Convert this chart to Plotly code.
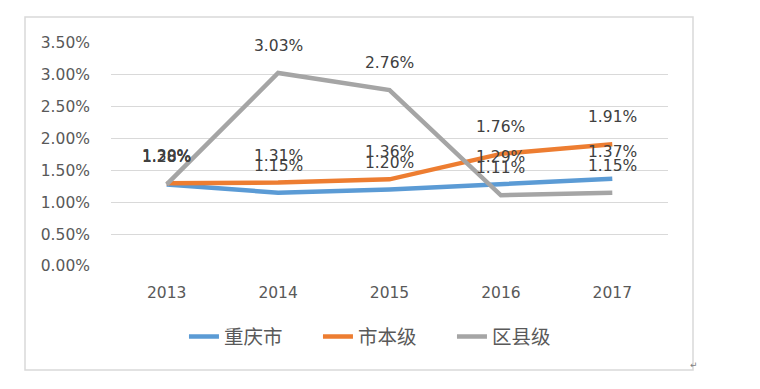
import plotly.graph_objects as go

years = [2013, 2014, 2015, 2016, 2017]
chongqing = [1.28, 1.15, 1.20, 1.29, 1.37]   # 重庆市
city_level = [1.30, 1.31, 1.36, 1.76, 1.91]  # 市本级
county_level = [1.28, 3.03, 2.76, 1.11, 1.15]  # 区县级
y_ticks = [0.0, 0.5, 1.0, 1.5, 2.0, 2.5, 3.0, 3.5]

series = [
    ("重庆市", chongqing, "#5B9BD5"),
    ("市本级", city_level, "#ED7D31"),
    ("区县级", county_level, "#A5A5A5"),
]

FONT = "DejaVu Sans, Noto Sans CJK SC"
TXT = "#595959"

fig = go.Figure()
for name, vals, color in series:
    fig.add_trace(go.Scatter(
        x=years, y=vals, name=name, mode="lines",
        line=dict(color=color, width=4.5),
    ))

annotations = []
for name, vals, color in series:
    for x, v in zip(years, vals):
        annotations.append(dict(
            x=x, y=v, xref="x", yref="y", text=f"{v:.2f}%",
            showarrow=False, yshift=27,
            font=dict(family=FONT, size=15.5, color="#404040"),
        ))
annotations.append(dict(
    x=1.0575, y=-0.475, xref="paper", yref="paper", text="↵",
    showarrow=False, font=dict(size=9, color="#808080"),
))

fig.update_layout(
    width=752, height=381,
    margin=dict(l=103, r=92, t=35, b=123),
    paper_bgcolor="white", plot_bgcolor="white",
    font=dict(family=FONT, color=TXT, size=15.5),
    showlegend=True,
    legend=dict(
        orientation="h", x=0.131, xanchor="left", y=-0.318, yanchor="middle",
        font=dict(family="Noto Sans CJK SC", size=19.5, color=TXT),
        entrywidth=89, entrywidthmode="pixels",
    ),
    xaxis=dict(
        range=[2012.5, 2017.5], tickvals=years, ticktext=[str(y) for y in years],
        showgrid=False, zeroline=False, showline=False,
        ticks="", ticklabelstandoff=15,
        tickfont=dict(family=FONT, size=15.5, color=TXT),
    ),
    yaxis=dict(
        range=[0, 3.5], tickvals=y_ticks,
        ticktext=[f"{t:.2f}%" for t in y_ticks],
        showgrid=True, gridcolor="#D9D9D9", gridwidth=1.3,
        zeroline=False, showline=False, ticks="", ticklabelstandoff=20,
        tickfont=dict(family=FONT, size=15.5, color=TXT),
    ),
    annotations=annotations,
    shapes=[dict(
        type="rect", xref="paper", yref="paper",
        x0=-0.1544, x1=1.0449, y0=-0.4664, y1=1.1166,
        line=dict(color="#D9D9D9", width=1.5), fillcolor="rgba(0,0,0,0)",
        layer="below",
    )],
)

fig.write_html("out.html")
